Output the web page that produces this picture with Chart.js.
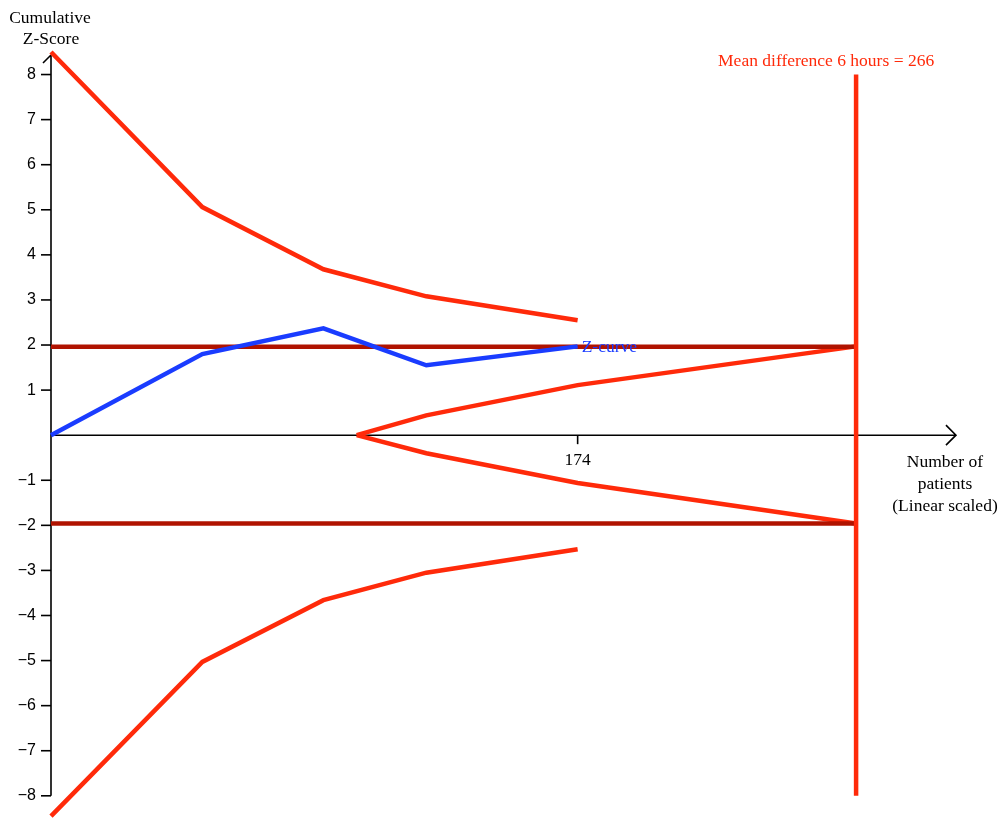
<!DOCTYPE html>
<html>
<head>
<meta charset="utf-8">
<script src="https://cdn.jsdelivr.net/npm/chart.js@4.4.1/dist/chart.umd.min.js"></script>
<style>
  html, body { margin: 0; padding: 0; background: #fff; }
  #wrap { width: 1006px; height: 818px; }
</style>
</head>
<body>
<div id="wrap"><canvas id="tsa"></canvas></div>
<script>
// number of patients at each cumulative look
const looks = [0, 50, 90, 124, 174];
const zCurve = [0, 1.80, 2.37, 1.55, 1.97];
const upperBoundary = [8.5, 5.06, 3.68, 3.08, 2.55];
const lowerBoundary = [-8.45, -5.03, -3.66, -3.05, -2.53];

// futility (inner wedge)
const futilityX = [101, 124, 174, 266];
const futilityUpper = [0, 0.44, 1.11, 1.97];
const futilityLower = [0, -0.40, -1.06, -1.96];

const conventional = 1.96;
const requiredSize = 266;
const requiredLine = [8, -8];

const yTicks = [8, 7, 6, 5, 4, 3, 2, 1, -1, -2, -3, -4, -5, -6, -7, -8];
const xTicks = [174];

const RED = "#ff2a0a";
const DARKRED = "#b01300";
const BLUE = "#1a3cff";
const SERIF = "'Liberation Serif', 'DejaVu Serif', serif";
const SANS = "'Liberation Sans', Arial, sans-serif";

function pts(xs, ys) {
    return xs.map((x, i) => ({ x: x, y: ys[i] }));
}

// axes, ticks and labels drawn by hand in the old TSA style
const axesPlugin = {
    id: "tsaAxes",
    beforeDatasetsDraw(chart) {
        const ctx = chart.ctx;
        const xs = chart.scales.x, ys = chart.scales.y;
        const x0 = xs.getPixelForValue(0);
        const y0 = ys.getPixelForValue(0);
        ctx.save();
        ctx.strokeStyle = "#000";
        ctx.lineWidth = 1.6;

        // y axis
        ctx.beginPath();
        ctx.moveTo(x0, ys.getPixelForValue(-8));
        ctx.lineTo(x0, 55);
        ctx.moveTo(x0 - 8, 63);
        ctx.lineTo(x0, 55);
        ctx.stroke();

        // x axis with arrow
        const xEnd = xs.getPixelForValue(299);
        ctx.beginPath();
        ctx.moveTo(x0, y0);
        ctx.lineTo(xEnd, y0);
        ctx.moveTo(xEnd - 10, y0 - 10);
        ctx.lineTo(xEnd, y0);
        ctx.lineTo(xEnd - 10, y0 + 10);
        ctx.stroke();

        // y ticks
        ctx.fillStyle = "#000";
        ctx.font = "16px " + SANS;
        ctx.textAlign = "right";
        ctx.textBaseline = "middle";
        yTicks.forEach(v => {
            const py = ys.getPixelForValue(v);
            ctx.beginPath();
            ctx.moveTo(x0 - 10, py);
            ctx.lineTo(x0, py);
            ctx.stroke();
            ctx.fillText(v < 0 ? "\u2212" + Math.abs(v) : String(v), x0 - 15, py);
        });

        // x ticks
        ctx.font = "17.5px " + SERIF;
        ctx.textAlign = "center";
        xTicks.forEach(v => {
            const px = xs.getPixelForValue(v);
            ctx.beginPath();
            ctx.moveTo(px, y0);
            ctx.lineTo(px, y0 + 9);
            ctx.stroke();
            ctx.fillText(String(v), px, y0 + 25);
        });

        // axis titles
        ctx.fillText("Cumulative", 50, 18);
        ctx.fillText("Z-Score", 51, 39);
        ctx.fillText("Number of", 945, 462);
        ctx.fillText("patients", 945, 484);
        ctx.fillText("(Linear scaled)", 945, 506);
        ctx.restore();
    },
    afterDatasetsDraw(chart) {
        const ctx = chart.ctx;
        const xs = chart.scales.x, ys = chart.scales.y;
        ctx.save();
        ctx.font = "17.5px " + SERIF;
        ctx.textBaseline = "middle";
        ctx.fillStyle = BLUE;
        ctx.textAlign = "left";
        ctx.fillText("Z-curve", xs.getPixelForValue(174) + 4, ys.getPixelForValue(zCurve[4]) + 1);
        ctx.fillStyle = RED;
        ctx.textAlign = "center";
        ctx.fillText("Mean difference 6 hours = " + requiredSize, xs.getPixelForValue(requiredSize) - 30, 61);
        ctx.restore();
    }
};

const line = (data, color, order) => ({
    data: data,
    borderColor: color,
    borderWidth: 4.5,
    pointRadius: 0,
    fill: false,
    tension: 0,
    clip: false,
    order: order
});

new Chart(document.getElementById("tsa"), {
    type: "line",
    data: {
        datasets: [
            line(pts([requiredSize, requiredSize], requiredLine), RED, 0),
            line(pts(looks, zCurve), BLUE, 1),
            line(pts([0, requiredSize], [conventional, conventional]), DARKRED, 2),
            line(pts([0, requiredSize], [-conventional, -conventional]), DARKRED, 2),
            line(pts(looks, upperBoundary), RED, 3),
            line(pts(looks, lowerBoundary), RED, 3),
            line(pts(futilityX, futilityUpper), RED, 4),
            line(pts(futilityX, futilityLower), RED, 4)
        ]
    },
    options: {
        responsive: true,
        maintainAspectRatio: false,
        animation: false,
        layout: { padding: { left: 51, right: 47, top: 52, bottom: 1 } },
        plugins: { legend: { display: false }, tooltip: { enabled: false } },
        scales: {
            x: { type: "linear", min: 0, max: 300, display: false },
            y: { type: "linear", min: -8.47, max: 8.5, display: false }
        }
    },
    plugins: [axesPlugin]
});
</script>
</body>
</html>
